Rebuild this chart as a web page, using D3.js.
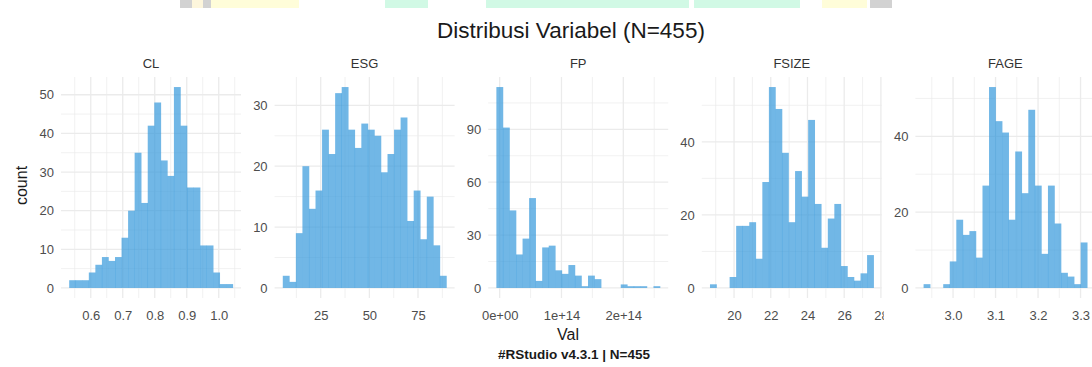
<!DOCTYPE html>
<html>
<head>
<meta charset="utf-8">
<script src="https://cdn.jsdelivr.net/npm/d3@7"></script>
<style>
  body { margin: 0; background: #fff; }
  svg text { font-family: "Liberation Sans", Arial, sans-serif; }
</style>
</head>
<body>
<div id="chart"></div>
<script>
// variables shown in the facets, left to right
const variables = ['CL', 'ESG', 'FP', 'FSIZE', 'FAGE'];

// histogram counts, 25 bins each (N=455)
const clCounts = [2, 2, 2, 4, 6, 8, 7, 8, 13, 20, 35, 22, 42, 48, 33, 29, 52, 42, 26, 26, 11, 11, 4, 1, 1];
const esgCounts = [2, 1, 9, 20, 13, 16, 26, 22, 32, 33, 26, 23, 27, 26, 25, 19, 22, 26, 28, 11, 16, 8, 15, 7, 2];
const fpCounts = [114, 91, 44, 19, 28, 51, 4, 23, 24, 10, 8, 13, 7, 1, 7, 5, 0, 0, 0, 2, 1, 1, 1, 0, 1];
const fsizeCounts = [1, 0, 0, 3, 17, 17, 18, 8, 29, 55, 49, 37, 18, 32, 25, 46, 23, 11, 19, 23, 6, 3, 2, 4, 9];
const fageCounts = [1, 0, 0, 1, 7, 18, 14, 15, 8, 27, 53, 44, 41, 18, 36, 25, 47, 27, 9, 27, 17, 4, 3, 1, 12];

// left edge of the first bin and bin width, per variable
const binStart = [0.5326, 5.5, -5.3e12, 18.69, 2.9307];
const binWidth = [0.020456, 3.364, 1.0586e13, 0.3565, 0.0154];

// tick values
const clTicks = [0.6, 0.7, 0.8, 0.9, 1.0];
const esgTicks = [25, 50, 75];
const fpTicks = [0, 1e14, 2e14];
const fsizeTicks = [20, 22, 24, 26, 28];
const fageTicks = [3.0, 3.1, 3.2, 3.3];
const countTicks = [[0, 10, 20, 30, 40, 50], [0, 10, 20, 30], [0, 30, 60, 90], [0, 20, 40], [0, 20, 40]];

const countsByVar = [clCounts, esgCounts, fpCounts, fsizeCounts, fageCounts];
const xTicksByVar = [clTicks, esgTicks, fpTicks, fsizeTicks, fageTicks];

// R style scientific labels: 1e+14, 0e+00
const sci = v => d3.format('.0e')(v).replace(/e([+-])(\d)$/, 'e$10$2');
const xFormats = [d3.format('.1f'), d3.format('d'), sci, d3.format('d'), d3.format('.1f')];

const width = 1092;
const height = 367;
const panelTop = 77;
const panelBottom = 298;
const panelLeft = 61;
const panelW = 180;
const panelStep = 213.6;
const barFill = '#3498db';
const gridColor = '#ebebeb';

const svg = d3.select('#chart')
    .append('svg')
    .attr('width', width)
    .attr('height', height);

// faint coloured strip at the very top of the screenshot
const topStrip = [
    { x: 180, w: 12, c: '#d2d2d2' }, { x: 192, w: 11, c: '#fdf6dc' }, { x: 203, w: 8, c: '#d2d2d2' },
    { x: 211, w: 88, c: '#fffdd9' }, { x: 385, w: 43, c: '#d1f9e5' }, { x: 486, w: 203, c: '#d1f9e5' },
    { x: 694, w: 106, c: '#d1f9e5' }, { x: 822, w: 45, c: '#fffdd9' }, { x: 870, w: 22, c: '#d2d2d2' }
];
svg.append('g')
    .selectAll('rect')
    .data(topStrip)
    .join('rect')
    .attr('x', d => d.x)
    .attr('y', 0)
    .attr('width', d => d.w)
    .attr('height', 8)
    .attr('fill', d => d.c);

const minorOf = (ticks, domain) => {
    const step = ticks[1] - ticks[0];
    const out = [];
    for (let k = -1; k < ticks.length; k++) {
        const v = ticks[0] + (k + 0.5) * step;
        if (v >= domain[0] && v <= domain[1]) out.push(v);
    }
    return out;
};

variables.forEach((name, i) => {
    const counts = countsByVar[i];
    const bins = counts.map((c, k) => ({
        x0: binStart[i] + k * binWidth[i],
        x1: binStart[i] + (k + 1) * binWidth[i],
        count: c
    }));
    const lo = binStart[i];
    const hi = binStart[i] + counts.length * binWidth[i];
    const pad = (hi - lo) * 0.05;
    const px = panelLeft + i * panelStep;
    const maxC = d3.max(counts);

    const x = d3.scaleLinear()
        .domain([lo - pad, hi + pad])
        .range([px, px + panelW]);

    const y = d3.scaleLinear()
        .domain([-maxC * 0.05, maxC * 1.05])
        .range([panelBottom, panelTop]);

    const g = svg.append('g');
    const yt = countTicks[i];
    const xt = xTicksByVar[i];

    // minor grid
    g.append('g')
        .selectAll('line')
        .data(minorOf(yt, y.domain()))
        .join('line')
        .attr('x1', px).attr('x2', px + panelW)
        .attr('y1', d => y(d)).attr('y2', d => y(d))
        .attr('stroke', gridColor).attr('stroke-width', 0.7);
    g.append('g')
        .selectAll('line')
        .data(minorOf(xt, x.domain()))
        .join('line')
        .attr('y1', panelTop).attr('y2', panelBottom)
        .attr('x1', d => x(d)).attr('x2', d => x(d))
        .attr('stroke', gridColor).attr('stroke-width', 0.7);

    // major grid
    g.append('g')
        .selectAll('line')
        .data(yt)
        .join('line')
        .attr('x1', px).attr('x2', px + panelW)
        .attr('y1', d => y(d)).attr('y2', d => y(d))
        .attr('stroke', gridColor).attr('stroke-width', 1.3);
    g.append('g')
        .selectAll('line')
        .data(xt.filter(v => v <= x.domain()[1]))
        .join('line')
        .attr('y1', panelTop).attr('y2', panelBottom)
        .attr('x1', d => x(d)).attr('x2', d => x(d))
        .attr('stroke', gridColor).attr('stroke-width', 1.3);

    // bars
    g.append('g')
        .attr('fill', barFill)
        .attr('fill-opacity', 0.7)
        .selectAll('rect')
        .data(bins.filter(b => b.count > 0))
        .join('rect')
        .attr('x', d => x(d.x0))
        .attr('y', d => y(d.count))
        .attr('width', d => x(d.x1) - x(d.x0) + 0.3)
        .attr('height', d => y(0) - y(d.count));

    // axes
    const yAxis = g.append('g')
        .attr('transform', `translate(${px},0)`)
        .call(d3.axisLeft(y).tickValues(yt).tickSize(0).tickPadding(7));
    yAxis.select('.domain').remove();
    yAxis.selectAll('text').attr('font-size', '13px').attr('fill', '#4d4d4d');

    // x labels are cut just past the panel's right edge (the "28" of FSIZE)
    const clipId = `clip-x-${i}`;
    svg.append('clipPath').attr('id', clipId)
        .append('rect')
        .attr('x', px - 30).attr('y', 0)
        .attr('width', panelW + 32).attr('height', 30);

    const xAxis = g.append('g')
        .attr('clip-path', `url(#${clipId})`)
        .attr('transform', `translate(0,${panelBottom})`)
        .call(d3.axisBottom(x).tickValues(xt).tickFormat(xFormats[i]).tickSize(0).tickPadding(13));
    xAxis.select('.domain').remove();
    xAxis.selectAll('text').attr('font-size', '13px').attr('fill', '#4d4d4d');

    // strip label
    g.append('text')
        .attr('x', px + panelW / 2)
        .attr('y', 68)
        .attr('text-anchor', 'middle')
        .attr('font-size', '13px')
        .attr('fill', '#333')
        .text(name);
});

svg.append('text')
    .attr('x', 571)
    .attr('y', 38)
    .attr('text-anchor', 'middle')
    .attr('font-size', '22.5px')
    .attr('fill', '#1a1a1a')
    .text('Distribusi Variabel (N=455)');

svg.append('text')
    .attr('x', 568)
    .attr('y', 340)
    .attr('text-anchor', 'middle')
    .attr('font-size', '16px')
    .attr('fill', '#1a1a1a')
    .text('Val');

svg.append('text')
    .attr('transform', `translate(21,${(panelTop + panelBottom) / 2 - 2}) rotate(-90)`)
    .attr('dy', '0.35em')
    .attr('text-anchor', 'middle')
    .attr('font-size', '16px')
    .attr('fill', '#1a1a1a')
    .text('count');

svg.append('text')
    .attr('x', 574)
    .attr('y', 359)
    .attr('text-anchor', 'middle')
    .attr('font-size', '13.5px')
    .attr('font-weight', 'bold')
    .attr('fill', '#1a1a1a')
    .text('#RStudio v4.3.1 | N=455');
</script>
</body>
</html>
